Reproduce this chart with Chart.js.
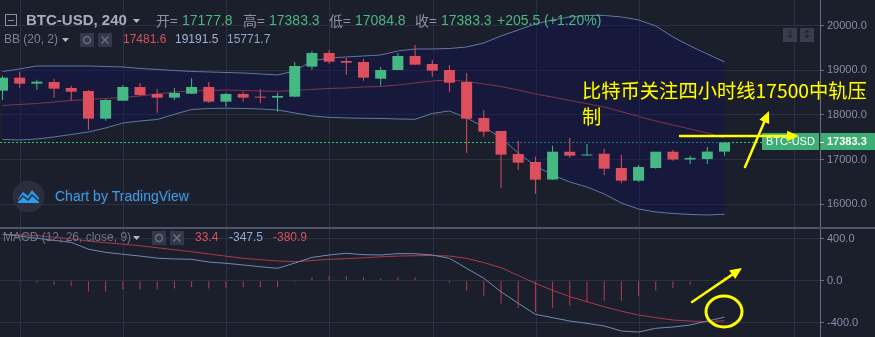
<!DOCTYPE html>
<html>
<head>
<meta charset="utf-8">
<script src="https://cdn.jsdelivr.net/npm/chart.js@4"></script>
<style>
html, body { margin: 0; padding: 0; background: #1b1e2b; overflow: hidden; }
#wrap { position: relative; width: 875px; height: 337px; }
canvas { position: absolute; left: 0; }
#main { top: 0; }
#macd { top: 228px; }
</style>
</head>
<body>
<div id="wrap">
  <canvas id="main" width="875" height="228"></canvas>
  <canvas id="macd" width="875" height="109"></canvas>
</div>
<script>
// BTC-USD 240 min candles
var opens  = [18546, 18838, 18703, 18741, 18606, 18539, 17917, 18321, 18629, 18472, 18389, 18478, 18629, 18299, 18472, 18404, 18389, 18411, 19085, 19392, 19212, 19190, 18815, 19010, 19325, 19145, 19010, 18741, 17933, 17641, 17124, 16944, 16551, 17175, 17090, 17130, 16810, 16525, 16810, 17175, 17000, 17010, 17177.8];
var highs  = [18883, 18972, 18793, 18808, 18658, 18560, 18359, 18674, 18719, 18584, 18606, 18824, 18741, 18501, 18523, 18577, 18501, 19190, 19437, 19460, 19287, 19257, 19078, 19392, 19572, 19235, 19123, 18943, 18112, 17641, 17416, 17064, 17310, 17490, 17348, 17242, 17100, 16877, 17175, 17220, 17086, 17280, 17383.3];
var lows   = [18337, 18613, 18569, 18388, 18321, 17663, 17872, 18321, 18427, 18052, 18337, 18478, 18277, 18186, 18299, 18263, 18074, 18400, 19017, 19152, 18905, 18770, 18658, 19010, 19130, 18860, 18523, 17153, 17513, 16367, 16765, 16233, 16540, 17041, 17090, 16645, 16466, 16502, 16795, 16974, 16900, 16900, 17084.8];
var closes = [18838, 18703, 18748, 18591, 18523, 17917, 18337, 18629, 18449, 18389, 18494, 18629, 18299, 18472, 18389, 18389, 18427, 19100, 19392, 19197, 19174, 18838, 19010, 19325, 19130, 18995, 18725, 17917, 17625, 17108, 16929, 16547, 17175, 17086, 17100, 16794, 16525, 16832, 17175, 17000, 17035, 17178, 17383.3];

// Bollinger bands (20, 2)
var bbUpper  = [18977, 19033, 19100, 19100, 19100, 19100, 19089, 19078, 19044, 19022, 18999, 18977, 18966, 18954, 18943, 18921, 18898, 18988, 19213, 19280, 19303, 19325, 19347, 19437, 19482, 19482, 19493, 19527, 19617, 19774, 19909, 20044, 20134, 20201, 20235, 20235, 20201, 20134, 19999, 19752, 19550, 19370, 19191.5];
var bbMiddle = [18213, 18236, 18258, 18292, 18326, 18348, 18371, 18393, 18427, 18472, 18517, 18539, 18550, 18561, 18550, 18539, 18532, 18550, 18573, 18595, 18606, 18629, 18640, 18674, 18719, 18764, 18786, 18752, 18696, 18640, 18561, 18472, 18402, 18326, 18254, 18180, 18074, 17969, 17865, 17775, 17686, 17596, 17481.6];
var bbLower  = [17450, 17439, 17461, 17506, 17562, 17618, 17708, 17820, 17865, 17899, 18016, 18124, 18146, 18151, 18146, 18135, 18112, 18045, 17978, 17948, 17933, 17926, 17922, 17910, 17903, 18034, 18090, 17933, 17731, 17484, 17147, 16855, 16653, 16495, 16383, 16226, 16024, 15889, 15822, 15788, 15766, 15754, 15771.7];

// MACD (12, 26, close, 9)
var macdLine   = [442, 425, 404, 385, 365, 300, 270, 252, 235, 215, 207, 204, 178, 166, 150, 133, 118, 168, 222, 245, 261, 248, 245, 258, 257, 245, 213, 118, 23, -105, -215, -320, -352, -384, -406, -431, -479, -489, -453, -441, -422, -384, -347.5];
var signalLine = [442, 437, 429, 415, 398, 378, 362, 348, 333, 314, 295, 276, 255, 234, 213, 200, 188, 181, 192, 204, 210, 219, 227, 235, 238, 240, 235, 213, 172, 124, 50, -25, -92, -152, -200, -248, -290, -327, -351, -374, -384, -390, -380.9];
var histogram  = [-5, -13, -19, -38, -48, -102, -102, -79, -83, -83, -73, -63, -73, -67, -63, -63, -63, -13, 32, 48, 48, 32, 22, 32, 32, 10, -22, -92, -149, -216, -260, -298, -260, -238, -206, -190, -190, -149, -92, -70, -38, -8, 33.4];

var priceTicks = [16000, 17000, 18000, 19000, 20000];
var macdTicks = [400, 0, -400];
var dayBreaks = [1.05, 7.05, 13.05, 19.05, 25.05, 31.05, 37.05, 46.05];

var UP = '#45b884', DOWN = '#de4f5e';
var gridColor = '#2c3045', axisColor = '#6b6f8a', labelColor = '#8a8ea6';
var FONT = '"Liberation Sans", Arial, sans-serif';
var CJK = '"Noto Sans CJK SC", sans-serif';

var idx = opens.map(function (v, i) { return i; });
var candleColor = idx.map(function (i) { return closes[i] >= opens[i] ? UP : DOWN; });
function pts(arr) { return arr.map(function (v, i) { return { x: i, y: v }; }); }

function xAxis() {
  return {
    type: 'linear', min: -0.145, max: 47.555, bounds: 'data', offset: false,
    ticks: { display: false },
    border: { display: false },
    grid: { color: gridColor, drawTicks: false, offset: false },
    afterBuildTicks: function (s) { s.ticks = dayBreaks.map(function (v) { return { value: v }; }); },
    afterFit: function (s) { s.height = 0; s.paddingLeft = 0; s.paddingRight = 0; }
  };
}
function yAxis(min, max, ticks) {
  return {
    position: 'right', min: min, max: max, bounds: 'data',
    border: { color: axisColor },
    grid: { color: gridColor, tickColor: axisColor, tickLength: 4 },
    ticks: {
      color: labelColor, padding: 3, font: { family: FONT, size: 11 },
      callback: function (v) { return Number(v).toFixed(1); }
    },
    afterBuildTicks: function (s) { s.ticks = ticks.map(function (v) { return { value: v }; }); },
    afterFit: function (s) { s.width = 55; s.paddingTop = 0; s.paddingBottom = 0; }
  };
}

function arrow(c, x1, y1, x2, y2, w, head) {
  var a = Math.atan2(y2 - y1, x2 - x1);
  c.save();
  c.strokeStyle = c.fillStyle = '#ffff00';
  c.lineWidth = w; c.lineCap = 'round';
  c.beginPath(); c.moveTo(x1, y1);
  c.lineTo(x2 - Math.cos(a) * head * 0.7, y2 - Math.sin(a) * head * 0.7);
  c.stroke();
  c.beginPath(); c.moveTo(x2, y2);
  c.lineTo(x2 - head * Math.cos(a - 0.42), y2 - head * Math.sin(a - 0.42));
  c.lineTo(x2 - head * Math.cos(a + 0.42), y2 - head * Math.sin(a + 0.42));
  c.closePath(); c.fill();
  c.restore();
}

function txt(c, s, x, y, color, font) {
  c.font = font; c.fillStyle = color; c.textAlign = 'left'; c.textBaseline = 'middle';
  c.fillText(s, x, y);
}
function tri(c, x, y) {
  c.fillStyle = '#b4b7c4';
  c.beginPath(); c.moveTo(x, y); c.lineTo(x + 7, y); c.lineTo(x + 3.5, y + 4); c.closePath(); c.fill();
}
function iconBoxes(c, x, y) {
  c.fillStyle = '#33374a';
  c.fillRect(x, y, 14, 14); c.fillRect(x + 18, y, 14, 14);
  c.strokeStyle = '#6a6e84'; c.lineWidth = 1.5;
  c.beginPath(); c.arc(x + 7, y + 7, 3.5, 0, Math.PI * 2); c.stroke();
  c.beginPath();
  c.moveTo(x + 21.5, y + 3.5); c.lineTo(x + 28.5, y + 10.5);
  c.moveTo(x + 28.5, y + 3.5); c.lineTo(x + 21.5, y + 10.5);
  c.stroke();
}

var mainOverlay = {
  id: 'mainOverlay',
  beforeDatasetsDraw: function (chart) {
    var c = chart.ctx;
    var py = Math.round(chart.scales.y.getPixelForValue(closes[closes.length - 1])) + 0.5;
    c.save();
    c.strokeStyle = '#35c27a'; c.lineWidth = 1; c.setLineDash([2, 2]);
    c.beginPath(); c.moveTo(0, py); c.lineTo(chart.chartArea.right, py); c.stroke();
    c.restore();
  },
  afterDraw: function (chart) {
    var c = chart.ctx, last = closes.length - 1;
    var py = Math.round(chart.scales.y.getPixelForValue(closes[last]));
    c.save();
    // pane separator
    c.fillStyle = '#50546b'; c.fillRect(0, 227, 875, 1);

    // last price tags
    c.fillStyle = '#3dae74';
    c.fillRect(821, py - 9, 54, 17);
    c.fillRect(762, py - 9, 57, 17);
    c.fillStyle = '#ffffff'; c.fillRect(820, py, 4, 1);
    txt(c, closes[last].toFixed(1), 827, py, '#ffffff', 'bold 11px ' + FONT);
    txt(c, 'BTC-USD', 766, py, '#ffffff', '11px ' + FONT);

    // header row
    c.strokeStyle = '#8a8ea4'; c.lineWidth = 1;
    c.strokeRect(5.5, 14.5, 11, 11);
    c.beginPath(); c.moveTo(8, 20.5); c.lineTo(14, 20.5); c.stroke();
    txt(c, 'BTC-USD, 240', 26, 21, '#a9acbc', 'bold 15px ' + FONT);
    tri(c, 133, 19);
    var lab = '#8d91a5', grn = '#4bb980', f14 = '14px ' + FONT;
    txt(c, '开=', 156, 21, lab, '14px ' + CJK);
    txt(c, opens[last].toFixed(1), 182, 21, grn, f14);
    txt(c, '高=', 243, 21, lab, '14px ' + CJK);
    txt(c, highs[last].toFixed(1), 269, 21, grn, f14);
    txt(c, '低=', 329, 21, lab, '14px ' + CJK);
    txt(c, lows[last].toFixed(1), 355, 21, grn, f14);
    txt(c, '收=', 415, 21, lab, '14px ' + CJK);
    txt(c, closes[last].toFixed(1), 441, 21, grn, f14);
    txt(c, '+205.5 (+1.20%)', 497, 21, grn, f14);

    // BB legend
    var f12 = '12px ' + FONT;
    txt(c, 'BB (20, 2)', 4, 40, '#7d8296', f12);
    tri(c, 62, 38);
    iconBoxes(c, 80, 33);
    txt(c, bbMiddle[last].toFixed(1), 123, 40, '#d9505f', f12);
    txt(c, bbUpper[last].toFixed(1), 175, 40, '#9fb3d1', f12);
    txt(c, bbLower[last].toFixed(1), 227, 40, '#8ea6c9', f12);

    // top right buttons
    c.fillStyle = '#3a3d4b';
    c.fillRect(783, 28, 14, 14); c.fillRect(800, 28, 14, 14);
    c.font = '11px "DejaVu Sans"'; c.fillStyle = '#1e2130';
    c.textAlign = 'center'; c.textBaseline = 'middle';
    c.fillText('\u2193', 790, 35); c.fillText('\u2195', 807, 35);

    // watermark
    c.fillStyle = '#2b2e3d';
    c.beginPath(); c.arc(28.5, 196.5, 16, 0, Math.PI * 2); c.fill();
    c.fillStyle = '#2a9cf0';
    c.beginPath();
    c.moveTo(18, 203); c.lineTo(18, 199); c.lineTo(23, 192); c.lineTo(28, 196);
    c.lineTo(32, 190); c.lineTo(39, 198); c.lineTo(39, 203); c.closePath(); c.fill();
    c.strokeStyle = '#2b2e3d'; c.lineWidth = 1.6;
    c.beginPath(); c.moveTo(18, 201); c.lineTo(23, 196); c.lineTo(28, 200); c.lineTo(32, 195); c.lineTo(39, 201); c.stroke();
    c.font = '14px ' + FONT; c.textAlign = 'left'; c.textBaseline = 'middle';
    c.strokeStyle = '#222536'; c.lineWidth = 3; c.lineJoin = 'round';
    c.strokeText('Chart by TradingView', 55, 197);
    c.fillStyle = '#3d9be0'; c.fillText('Chart by TradingView', 55, 197);

    // annotation
    c.font = '19.3px ' + CJK;
    c.strokeStyle = 'rgba(40,40,20,0.8)'; c.lineWidth = 1.5;
    c.strokeText('比特币关注四小时线17500中轨压', 582, 91);
    c.strokeText('制', 582, 117);
    c.fillStyle = '#ffff00';
    c.fillText('比特币关注四小时线17500中轨压', 582, 91);
    c.fillText('制', 582, 117);
    arrow(c, 680, 136, 799, 136, 2.5, 13);
    arrow(c, 745, 167, 769, 111, 2.5, 13);
    c.restore();
  }
};

var macdOverlay = {
  id: 'macdOverlay',
  afterDraw: function (chart) {
    var c = chart.ctx, last = histogram.length - 1;
    c.save();
    c.fillStyle = '#50546b'; c.fillRect(0, 0, 875, 1);
    var f12 = '12px ' + FONT;
    txt(c, 'MACD (12, 26, close, 9)', 3, 10, '#6f7488', f12);
    tri(c, 133, 8);
    iconBoxes(c, 152, 3);
    txt(c, histogram[last].toFixed(1), 195, 10, '#d9505f', f12);
    txt(c, macdLine[last].toFixed(1), 229, 10, '#8fa9cf', f12);
    txt(c, signalLine[last].toFixed(1), 273, 10, '#d9505f', f12);
    arrow(c, 692, 74, 742, 40, 2.5, 13);
    c.strokeStyle = '#ffff00'; c.lineWidth = 3;
    c.beginPath(); c.ellipse(724, 83.5, 18, 15.5, 0, 0, Math.PI * 2); c.stroke();
    c.restore();
  }
};

var common = {
  responsive: false, animation: false, devicePixelRatio: 1,
  layout: { padding: 0 },
  plugins: { legend: { display: false }, tooltip: { enabled: false } }
};

new Chart(document.getElementById('main').getContext('2d'), {
  type: 'bar',
  data: {
    datasets: [
      { type: 'bar', data: idx.map(function (i) { return { x: i, y: [opens[i], closes[i]] }; }),
        backgroundColor: candleColor, barThickness: 11, minBarLength: 1, grouped: false, inflateAmount: 0, order: 0 },
      { type: 'bar', data: idx.map(function (i) { return { x: i, y: [lows[i], highs[i]] }; }),
        backgroundColor: candleColor, barThickness: 1, grouped: false, inflateAmount: 0, order: 1 },
      { type: 'line', data: pts(bbMiddle), borderColor: '#80354f', borderWidth: 1, pointRadius: 0, tension: 0, order: 2 },
      { type: 'line', data: pts(bbUpper), borderColor: '#5f7aa0', borderWidth: 1, pointRadius: 0, tension: 0, order: 3 },
      { type: 'line', data: pts(bbLower), borderColor: '#5f7aa0', borderWidth: 1, pointRadius: 0, tension: 0, order: 4,
        fill: 3, backgroundColor: 'rgba(18,18,84,0.42)' }
    ]
  },
  options: Object.assign({}, common, {
    scales: { x: xAxis(), y: yAxis(15462, 20582, priceTicks) }
  }),
  plugins: [mainOverlay]
});

new Chart(document.getElementById('macd').getContext('2d'), {
  type: 'bar',
  data: {
    datasets: [
      { type: 'line', data: pts(macdLine), borderColor: '#6d8cb5', borderWidth: 1, pointRadius: 0, tension: 0, order: 0 },
      { type: 'line', data: pts(signalLine), borderColor: '#ad3a4f', borderWidth: 1, pointRadius: 0, tension: 0, order: 1 },
      { type: 'bar', data: pts(histogram), backgroundColor: '#bb3a4f', barThickness: 1, inflateAmount: 0, order: 2 }
    ]
  },
  options: Object.assign({}, common, {
    scales: { x: xAxis(), y: yAxis(-536, 502, macdTicks) }
  }),
  plugins: [macdOverlay]
});
</script>
</body>
</html>
